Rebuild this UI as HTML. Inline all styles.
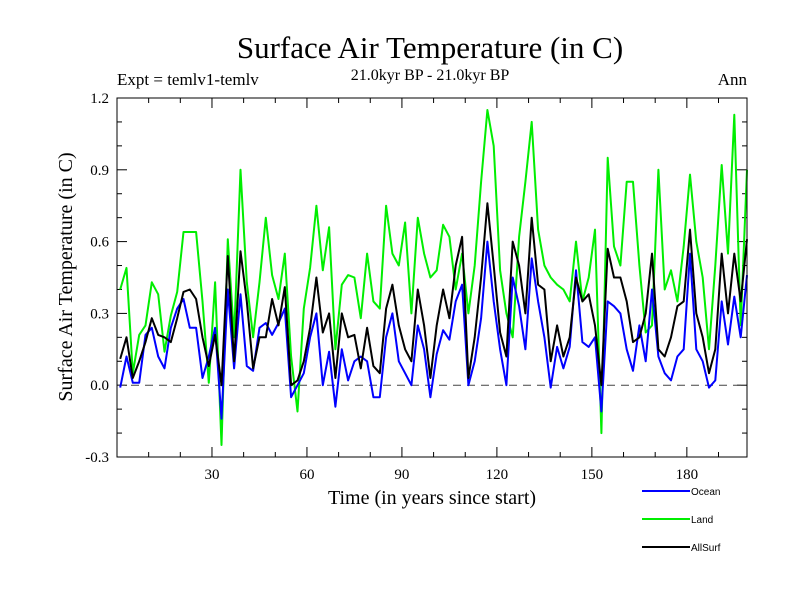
<!DOCTYPE html>
<html><head><meta charset="utf-8"><style>
body{margin:0;background:#fff;}
svg{display:block;}
text{font-family:"Liberation Serif",serif;fill:#000;}
</style></head><body>
<svg id="chart" width="800" height="600" viewBox="0 0 800 600" xmlns="http://www.w3.org/2000/svg">
<rect width="800" height="600" fill="#fff"/>
<text x="430" y="58" font-size="31" text-anchor="middle">Surface Air Temperature (in C)</text>
<text x="430" y="80" font-size="16" text-anchor="middle">21.0kyr BP - 21.0kyr BP</text>
<text x="117" y="85" font-size="17">Expt = temlv1-temlv</text>
<text x="747" y="85" font-size="17" text-anchor="end">Ann</text>
<text transform="translate(72,277) rotate(-90)" font-size="20" text-anchor="middle">Surface Air Temperature (in C)</text>
<text x="432" y="504" font-size="20" text-anchor="middle">Time (in years since start)</text>
<g id="axes"></g>
<g id="series"></g>
<rect x="117" y="98" width="630" height="359" fill="none" stroke="#000" stroke-width="1"/>
<g id="legend"></g>
</svg>
<script>
const green = [.40,.49,.05,.21,.25,.43,.38,.14,.29,.39,.64,.64,.64,.35,.01,.43,-.25,.61,.2,.9,.43,.2,.43,.7,.46,.36,
 .55,.12,-.11,.32,.49,.75,.48,.66,.15,.42,.46,.45,.28,.55,.35,.32,.75,.55,.5,.68,.3,.7,.55,.45,
 .48,.67,.62,.4,.55,.3,.5,.85,1.15,1.0,.48,.3,.2,.62,.85,1.1,.65,.5,.45,.42,.4,.35,.6,.35,.45,.65,
 -.2,.95,.58,.5,.85,.85,.5,.22,.25,.9,.4,.48,.35,.58,.88,.6,.45,.15,.5,.92,.55,1.13,.25,.9];
const blue = [-.01,.12,.01,.01,.21,.24,.12,.07,.24,.32,.36,.24,.24,.03,.12,.24,-.14,.4,.07,.38,.08,.06,.24,.26,.21,.26,
 .32,-.05,0,.05,.2,.3,0,.14,-.09,.15,.02,.1,.12,.1,-.05,-.05,.2,.3,.1,.05,0,.25,.15,-.05,
 .13,.23,.19,.35,.42,0,.1,.28,.6,.35,.15,0,.45,.33,.15,.53,.35,.2,-.01,.16,.07,.16,.48,.18,.16,.2,
 -.11,.35,.33,.3,.15,.06,.25,.1,.4,.12,.05,.02,.12,.15,.55,.15,.1,-.01,.02,.35,.17,.37,.2,.46];
const black = [.11,.2,.03,.1,.18,.28,.21,.2,.18,.28,.39,.4,.36,.2,.08,.21,0,.54,.1,.56,.35,.07,.2,.2,.36,.25,
 .41,0,.02,.1,.24,.45,.22,.3,.03,.3,.2,.21,.07,.24,.08,.05,.32,.42,.25,.15,.1,.4,.25,.03,
 .25,.4,.28,.5,.62,.03,.2,.45,.76,.5,.22,.12,.6,.5,.3,.7,.42,.4,.1,.25,.12,.2,.45,.35,.38,.25,
 0,.57,.45,.45,.35,.18,.2,.3,.55,.15,.12,.2,.33,.35,.65,.3,.2,.05,.15,.55,.3,.55,.35,.61];
const yTickLabels = ["-0.3","0.0","0.3","0.6","0.9","1.2"];
const yTickValues = [-0.3,0,0.3,0.6,0.9,1.2];
const xTickLabels = ["30","60","90","120","150","180"];
const xTickValues = [30,60,90,120,150,180];
const years = [];
for (let i = 0; i < green.length; i++) years.push(1 + 2*i);

const L=117,R=747,T=98,B=457,X0=0,X1=199,Y0=-0.3,Y1=1.2;
const NS="http://www.w3.org/2000/svg";
function sx(v){return L+(v-X0)/(X1-X0)*(R-L);}
function sy(v){return B-(v-Y0)/(Y1-Y0)*(B-T);}
function mk(tag,attrs,parent){const e=document.createElementNS(NS,tag);for(const k in attrs)e.setAttribute(k,attrs[k]);parent.appendChild(e);return e;}
const axes=document.getElementById('axes');
// minor y ticks every 0.1
for(let k=-3;k<=12;k++){const v=k/10;const y=sy(v);const major=(k%3===0);const len=major?10:5;
 const t1=mk('line',{x1:L,x2:L+len,y1:y,y2:y,stroke:'#000'},axes);
 
 
 const t2=mk('line',{x1:R-len,x2:R,y1:y,y2:y,stroke:'#000'},axes);
 
 
}
yTickValues.forEach((v,i)=>{const t=mk('text',{x:L-8,y:sy(v)+5,'font-size':15,'text-anchor':'end'},axes);t.textContent=yTickLabels[i];
 
 
});
for(let v=10;v<=190;v+=10){const x=sx(v);const major=(v%30===0);const len=major?10:5;
 const t1=mk('line',{x1:x,x2:x,y1:B,y2:B-len,stroke:'#000'},axes);
 
 
 const t2=mk('line',{x1:x,x2:x,y1:T,y2:T+len,stroke:'#000'},axes);
 
 
}
xTickValues.forEach((v,i)=>{const t=mk('text',{x:sx(v),y:B+22,'font-size':15,'text-anchor':'middle'},axes);t.textContent=xTickLabels[i];
 
 
});
const zl=mk('line',{x1:L,x2:R,y1:sy(0),y2:sy(0),stroke:'#444','stroke-dasharray':'8,6'},axes);


const ser=document.getElementById('series');
function draw(arr,color,name){const pts=arr.map((v,i)=>sx(years[i]).toFixed(1)+','+sy(v).toFixed(1)).join(' ');
 const p=mk('polyline',{points:pts,fill:'none',stroke:color,'stroke-width':2,'stroke-linejoin':'round'},ser);
 
 
}
draw(green,'#00ee00','land-line');
draw(blue,'#0000ff','ocean-line');
draw(black,'#000000','allsurf-line');
const lg=document.getElementById('legend');
[['Ocean','#0000ff',491],['Land','#00ee00',519],['AllSurf','#000000',547]].forEach(e=>{
 const g=mk('g',{},lg);
 
 
 mk('line',{x1:642,x2:690,y1:e[2],y2:e[2],stroke:e[1],'stroke-width':2},g);
 const t=mk('text',{x:691,y:e[2]+4,'font-size':10,style:'font-family:"Liberation Sans",sans-serif'},g);t.textContent=e[0];
});
</script>
</body></html>
